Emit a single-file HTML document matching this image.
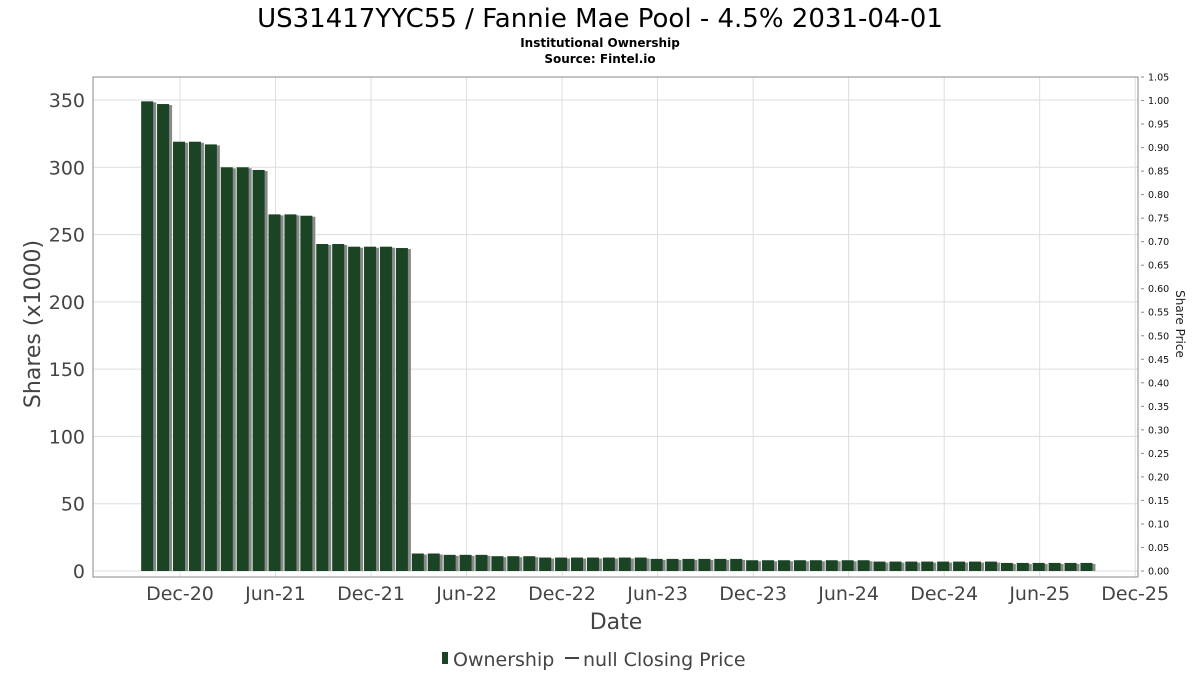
<!DOCTYPE html>
<html><head><meta charset="utf-8"><style>
body{margin:0;background:#fff;}
svg text{font-family:"DejaVu Sans","Liberation Sans",sans-serif;}
</style></head><body>
<svg width="1200" height="675" xmlns="http://www.w3.org/2000/svg" id="chart">
<text x="600" y="27" text-anchor="middle" font-size="26" fill="#000">US31417YYC55 / Fannie Mae Pool - 4.5% 2031-04-01</text>
<text x="600" y="47" text-anchor="middle" font-size="12" font-weight="bold">Institutional Ownership</text>
<text x="600" y="63" text-anchor="middle" font-size="12" font-weight="bold">Source: Fintel.io</text>
<g id="grid"></g>
<g id="bars"></g>
<g id="axes"></g>
<text x="40" y="324" transform="rotate(-90 40 324)" text-anchor="middle" font-size="22" fill="#444">Shares (x1000)</text>
<text x="1176" y="324" transform="rotate(90 1176 324)" text-anchor="middle" font-size="12" fill="#222">Share Price</text>
<text x="616" y="629" text-anchor="middle" font-size="22" fill="#444">Date</text>
<g>
<rect x="442" y="652" width="6" height="12" fill="#1a4424"/>
<text x="453" y="666" font-size="19" fill="#444">Ownership</text>
<line x1="565" y1="658" x2="579" y2="658" stroke="#444" stroke-width="2"/>
<text x="583" y="666" font-size="19" fill="#444">null Closing Price</text>
</g>
</svg>
<script>
const values=[349,347,319,319,317,300,300,298,265,265,264,243,243,241,241,241,240,
13,13,12,12,12,11,11,11,10,10,10,10,10,10,10,9,9,9,9,9,9,
8,8,8,8,8,8,8,8,7,7,7,7,7,7,7,7,6,6,6,6,6,6];
const yTicks=[0,50,100,150,200,250,300,350];
const y2Ticks=["0.00","0.05","0.10","0.15","0.20","0.25","0.30","0.35","0.40","0.45","0.50","0.55","0.60","0.65","0.70","0.75","0.80","0.85","0.90","0.95","1.00","1.05"];
const xLabels=["Dec-20","Jun-21","Dec-21","Jun-22","Dec-22","Jun-23","Dec-23","Jun-24","Dec-24","Jun-25","Dec-25"];
const NS="http://www.w3.org/2000/svg";
const L=93,R=1138,T=77,B=577,Y0=571;
const y=v=>Y0-v*(471/350);
const y2=v=>Y0-v*(494/1.05);
const x=m=>180+m*15.92; // months relative to Dec-20
function mk(tag,attrs,parent){const e=document.createElementNS(NS,tag);for(const k in attrs)e.setAttribute(k,attrs[k]);document.getElementById(parent).appendChild(e);return e;}
const frame=mk('rect',{x:L,y:T,width:R-L,height:B-T,fill:'none',stroke:'#888'},'axes');


yTicks.forEach(v=>{
 const g=mk('line',{x1:L,x2:R,y1:y(v),y2:y(v),stroke:'#ddd'},'grid');
 
 
 const t=mk('text',{x:L-8,y:y(v)+7,'text-anchor':'end','font-size':19,fill:'#444'},'axes');
 t.textContent=v;
 
 
});
y2Ticks.forEach(s=>{
 const v=parseFloat(s);
 const tk=mk('line',{x1:R+3,x2:R+6,y1:y2(v),y2:y2(v),stroke:'#888'},'axes');
 
 
 const t=mk('text',{x:R+10,y:y2(v)+3.5,'font-size':9.5,fill:'#111'},'axes');
 t.textContent=s;
 
 
});
xLabels.forEach((s,i)=>{
 const xx=x(i*6);
 const g=mk('line',{x1:xx,x2:xx,y1:T,y2:B,stroke:'#ddd'},'grid');
 
 
 const t=mk('text',{x:xx,y:600,'text-anchor':'middle','font-size':19,fill:'#444'},'axes');
 t.textContent=s;
 
 
});
values.forEach((v,i)=>{
 const cx=x(i-2);
 const sh=mk('rect',{x:cx-5,y:y(v)+1,width:13,height:Y0-y(v)-1,fill:'#888'},'bars');
 
 
 const b=mk('rect',{x:cx-7,y:y(v),width:12,height:Y0-y(v),fill:'#1a4424'},'bars');
 
 
});
</script>
</body></html>
